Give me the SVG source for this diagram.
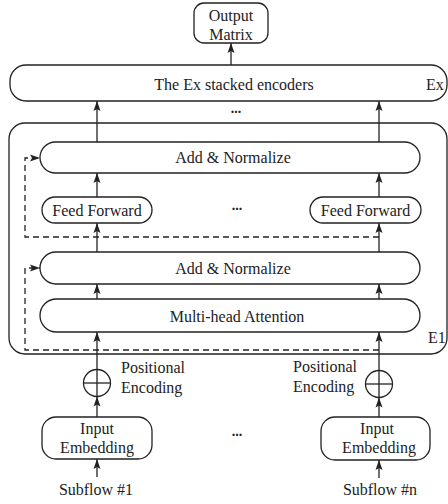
<svg xmlns="http://www.w3.org/2000/svg" width="448" height="504" viewBox="0 0 448 504">
<style>
.box{fill:#fff;stroke:#222;stroke-width:1.3}
.t{font-family:"Liberation Serif","Times New Roman",serif;font-size:16px;fill:#222}
.c{text-anchor:middle}
.dots{font-family:"Liberation Serif",serif;font-size:14px;font-weight:bold;fill:#222;text-anchor:middle}
.ln{fill:none;stroke:#222;stroke-width:1.3}
.dash{fill:none;stroke:#222;stroke-width:1.3;stroke-dasharray:6,4}
</style>
<defs>
<marker id="ah" markerUnits="userSpaceOnUse" markerWidth="10" markerHeight="10" viewBox="0 0 10 10" refX="10" refY="5" orient="auto">
<path d="M0,1.5 L10,5 L0,8.5 L2,5 Z" fill="#222"/>
</marker>
</defs>
<g id="e1-container"><rect class="box" x="9" y="123" width="438" height="231" rx="16"/><text class="t" x="428" y="343">E1</text></g>
<g id="output-matrix"><rect class="box" x="194" y="3" width="74" height="40" rx="10"/><text class="t c" x="231" y="20.5">Output</text><text class="t c" x="231" y="39.5">Matrix</text></g>
<g id="ex-encoders"><rect class="box" x="10" y="65" width="437" height="36" rx="16"/><text class="t c" x="234" y="90">The Ex stacked encoders</text><text class="t" x="426" y="90">Ex</text></g>
<g id="add-norm-top"><rect class="box" x="40" y="142" width="380" height="31" rx="15.5"/><text class="t c" x="233" y="163">Add &amp; Normalize</text></g>
<g id="ff-left"><rect class="box" x="42" y="197" width="110" height="26" rx="13"/><text class="t c" x="97" y="215.5">Feed Forward</text></g>
<g id="ff-right"><rect class="box" x="310" y="197" width="111" height="26" rx="13"/><text class="t c" x="365.5" y="215.5">Feed Forward</text></g>
<g id="add-norm-bottom"><rect class="box" x="40" y="252" width="380" height="32" rx="16"/><text class="t c" x="233" y="274">Add &amp; Normalize</text></g>
<g id="mha"><rect class="box" x="40" y="299" width="380" height="33" rx="16.5"/><text class="t c" x="237" y="322">Multi-head Attention</text></g>
<g id="pe-left"><circle class="box" cx="97" cy="383" r="13.5"/><path class="ln" d="M83.5,383 H110.5"/><text class="t" x="121" y="373">Positional</text><text class="t" x="121" y="393">Encoding</text></g>
<g id="pe-right"><circle class="box" cx="379" cy="384" r="13.5"/><path class="ln" d="M365.5,384 H392.5"/><text class="t" x="293" y="372">Positional</text><text class="t" x="293" y="392">Encoding</text></g>
<g id="ie-left"><rect class="box" x="42" y="417" width="110" height="42" rx="14"/><text class="t c" x="97" y="434">Input</text><text class="t c" x="97" y="453">Embedding</text></g>
<g id="ie-right"><rect class="box" x="321" y="417" width="109" height="43" rx="14"/><text class="t c" x="377" y="434">Input</text><text class="t c" x="379" y="453">Embedding</text></g>
<g id="sub1"><text class="t c" x="96" y="495">Subflow #1</text></g>
<g id="subn"><text class="t c" x="380" y="495">Subflow #n</text></g>
<g id="dots"><text class="dots" x="236" y="113">...</text><text class="dots" x="237" y="210">...</text><text class="dots" x="237" y="436">...</text></g>
<g id="connectors">
<path class="ln" d="M231,65 V43" marker-end="url(#ah)"/>
<path class="ln" d="M97,142 V101" marker-end="url(#ah)"/>
<path class="ln" d="M379,142 V101" marker-end="url(#ah)"/>
<path class="ln" d="M97,197 V173" marker-end="url(#ah)"/>
<path class="ln" d="M379,197 V173" marker-end="url(#ah)"/>
<path class="ln" d="M97,252 V223" marker-end="url(#ah)"/>
<path class="ln" d="M379,252 V223" marker-end="url(#ah)"/>
<path class="ln" d="M97,299 V284" marker-end="url(#ah)"/>
<path class="ln" d="M379,299 V284" marker-end="url(#ah)"/>
<path class="ln" d="M97,396.5 V332" marker-end="url(#ah)"/>
<path class="ln" d="M379,397.5 V332" marker-end="url(#ah)"/>
<path class="ln" d="M97,417 V396.5" marker-end="url(#ah)"/>
<path class="ln" d="M379,417 V397.5" marker-end="url(#ah)"/>
<path class="ln" d="M97,477 V459" marker-end="url(#ah)"/>
<path class="ln" d="M379,478 V460" marker-end="url(#ah)"/>
<path class="dash" d="M379,237 H25 V158 H40" marker-end="url(#ah)"/>
<path class="dash" d="M379,350 H25 V268 H40" marker-end="url(#ah)"/>
</g>
</svg>
